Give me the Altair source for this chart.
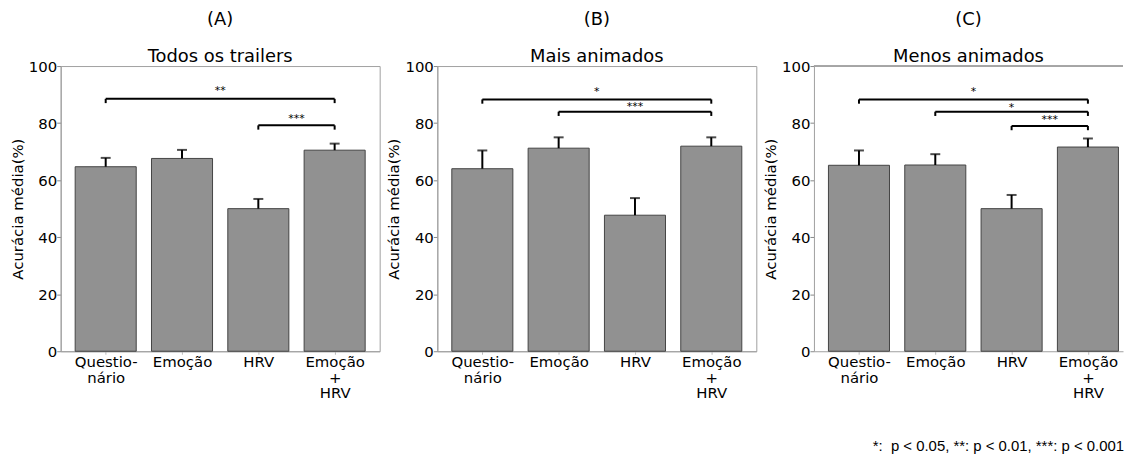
import altair as alt
import pandas as pd

# ---- data ----
categories = ["Questionário", "Emoção", "HRV", "Emoção + HRV"]
tick_lines = [["Questio-", "nário"], ["Emoção"], ["HRV"], ["Emoção", "+", "HRV"]]
panel_tags = ["(A)", "(B)", "(C)"]
panel_names = ["Todos os trailers", "Mais animados", "Menos animados"]

mean_A = [64.7, 67.6, 50.0, 70.5]
err_A = [3.1, 3.0, 3.4, 2.3]
mean_B = [64.0, 71.2, 47.7, 71.9]
err_B = [6.4, 3.8, 6.0, 3.1]
mean_C = [65.2, 65.3, 50.0, 71.6]
err_C = [5.2, 3.8, 4.8, 3.0]

# significance brackets: (from index, to index, height, stars, star height)
sig_A = [(0, 3, 88.5, "**", 91.3), (2, 3, 79.2, "***", 81.6)]
sig_B = [(0, 3, 88.3, "*", 91.0), (1, 3, 84.0, "***", 85.6)]
sig_C = [(0, 3, 88.3, "*", 91.0), (1, 3, 84.0, "*", 85.4), (2, 3, 79.0, "***", 81.0)]

footnote = "*:\u00a0 p < 0.05, **: p < 0.01, ***: p < 0.001"
y_title = "Acurácia média(%)"

means = [mean_A, mean_B, mean_C]
errs = [err_A, err_B, err_C]
sigs = [sig_A, sig_B, sig_C]

FONT = "DejaVu Sans"
label_expr = "[" + ",".join("[" + ",".join("'" + s + "'" for s in lines) + "]" for lines in tick_lines) + "][datum.value]"

ys = alt.Scale(domain=[0, 100], nice=False, zero=True)


def panel(k, width=321, xmax=3.59, last=False):
    xs = alt.Scale(domain=[-0.59, xmax], nice=False, zero=False)
    bars = pd.DataFrame({"idx": list(range(len(categories))), "cat": categories,
                         "mean": means[k], "err": errs[k]})
    sig = pd.DataFrame(sigs[k], columns=["a", "b", "h", "stars", "ty"])

    base = alt.Chart(bars).transform_calculate(
        x0="datum.idx - 0.4", x1="datum.idx + 0.4", top="datum.mean + datum.err")

    bar = base.mark_bar(color="#919191", stroke="#444444", strokeWidth=1).encode(
        x=alt.X("x0:Q", scale=xs, title=None,
                axis=alt.Axis(values=[0, 1, 2, 3], labelExpr=label_expr, grid=False,
                              tickSize=3, tickColor="#bbbbbb", labelPadding=0,
                              labelLineHeight=16, labelBaseline="top")),
        x2="x1:Q",
        y=alt.Y("mean:Q", scale=ys, title=y_title,
                axis=alt.Axis(values=[0, 20, 40, 60, 80, 100], grid=False, tickSize=4,
                              labelPadding=0, titlePadding=3)),
        y2=alt.datum(0),
    )
    ebar = base.mark_rule(color="black", strokeWidth=2).encode(
        x=alt.X("idx:Q", scale=xs, title=None),
        y=alt.Y("mean:Q", scale=ys, title=y_title), y2="top:Q")
    cap = base.mark_tick(color="black", thickness=2, size=10, orient="horizontal").encode(
        x=alt.X("idx:Q", scale=xs, title=None),
        y=alt.Y("top:Q", scale=ys, title=y_title))

    sb = alt.Chart(sig).transform_calculate(low="datum.h - 1.5", mid="(datum.a + datum.b) / 2")
    hline = sb.mark_rule(color="black", strokeWidth=2).encode(
        x=alt.X("a:Q", scale=xs, title=None), x2="b:Q",
        y=alt.Y("h:Q", scale=ys, title=y_title))
    tips = sb.transform_fold(["a", "b"], as_=["end", "pos"]).mark_rule(
        color="black", strokeWidth=2).encode(
        x=alt.X("pos:Q", scale=xs, title=None),
        y=alt.Y("h:Q", scale=ys, title=y_title), y2="low:Q")
    stars = sb.mark_text(font=FONT, fontSize=11, color="black", baseline="middle").encode(
        x=alt.X("mid:Q", scale=xs, title=None),
        y=alt.Y("ty:Q", scale=ys, title=y_title),
        text="stars:N")

    layers = [bar, ebar, cap, hline, tips, stars]
    props = dict(width=width, height=287,
                 title=alt.Title(panel_tags[k], subtitle=panel_names[k], font=FONT,
                                 subtitleFont=FONT, fontSize=18, subtitleFontSize=18,
                                 fontWeight="normal", color="black", subtitleColor="black",
                                 anchor="middle", subtitlePadding=19, offset=-7))
    if last:
        # the reference's last panel runs past the picture's right edge: no right border
        top_border = base.mark_rule(color="#a0a0a0", strokeWidth=1).encode(
            y=alt.datum(100, scale=ys))
        layers.append(top_border)
        props["view"] = alt.ViewBackground(stroke="transparent")
    return alt.layer(*layers).properties(**props)


chart = alt.hconcat(panel(0), panel(1), panel(2, width=311, xmax=3.59 - 10 / 76.8, last=True),
                    spacing=5).properties(
    padding={"left": 1, "top": 1, "right": 0, "bottom": 0},
    title=alt.Title(footnote, orient="bottom", anchor="end", font="Liberation Sans",
                    fontSize=15, fontWeight="normal", color="black", offset=38, dx=0),
).configure_view(stroke="#a0a0a0", strokeWidth=1).configure_axis(
    domainColor="#a0a0a0", tickColor="#888888", labelColor="black", titleColor="black",
    labelFont=FONT, titleFont=FONT, labelFontSize=15, titleFontSize=15,
    titleFontWeight="normal",
)

chart.save("out.html", embed_options={"renderer": "svg", "actions": False})
